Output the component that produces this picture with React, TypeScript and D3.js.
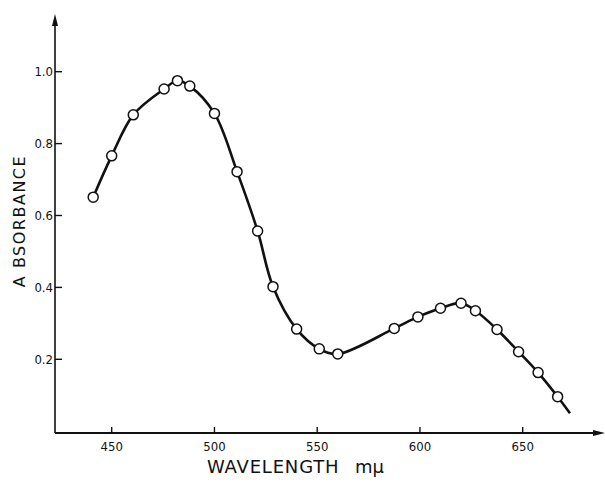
import React from 'react';
import * as d3 from 'd3';

// measured points (wavelength in m\u03bc, absorbance)
const wavelengths = [441, 450, 460.5, 475.5, 482, 488, 500, 511, 521, 528.5, 540, 551, 560, 587.5, 599, 610, 620, 627, 637.5, 648, 657.5, 667];
const absorbance = [0.651, 0.766, 0.88, 0.952, 0.975, 0.96, 0.884, 0.722, 0.557, 0.402, 0.284, 0.229, 0.215, 0.286, 0.318, 0.342, 0.356, 0.335, 0.283, 0.221, 0.163, 0.096];
// the drawn curve runs on a little past the last circle
const tailWavelength = 673;
const tailAbsorbance = 0.05;

const xTicks = [450, 500, 550, 600, 650];
const yTicks = [0.2, 0.4, 0.6, 0.8, 1.0];

const App = () => {
  const width = 605;
  const height = 483;
  const axisX = 55;
  const axisY = 433;

  const xScale = d3.scaleLinear().domain([450, 650]).range([111.7, 522.7]);
  const yScale = d3.scaleLinear().domain([0.2, 1.0]).range([359.3, 71.7]);

  const points = wavelengths.map((w, i) => [w, absorbance[i]] as [number, number]);
  const curvePoints = points.concat([[tailWavelength, tailAbsorbance]]);

  const line = d3
    .line<[number, number]>()
    .x(d => xScale(d[0]))
    .y(d => yScale(d[1]))
    .curve(d3.curveCatmullRom.alpha(0.5));

  const tickFont = '"DejaVu Sans Condensed", "Liberation Sans Narrow", sans-serif';

  return (
    <svg
      width={width}
      height={height}
      style={{ position: 'absolute', left: 0, top: 0, background: '#fff' }}
    >
      {/* axes */}
      <line x1={axisX} y1={axisY} x2={axisX} y2={20} stroke="#111" strokeWidth={1.6} />
      <path d={`M${axisX - 3},${26} L${axisX},${14} L${axisX + 3},${26} Z`} fill="#111" />
      <line x1={axisX} y1={axisY} x2={598} y2={axisY} stroke="#111" strokeWidth={1.8} />
      <path d={`M${593},${axisY - 3} L${605},${axisY} L${593},${axisY + 3} Z`} fill="#111" />

      {xTicks.map(t => (
        <g key={t}>
          <line x1={xScale(t)} x2={xScale(t)} y1={axisY} y2={axisY - 6} stroke="#111" strokeWidth={1.4} />
          <text x={xScale(t)} y={451} textAnchor="middle" fontFamily={tickFont} fontSize={13} fill="#111">
            {t}
          </text>
        </g>
      ))}

      {yTicks.map(t => (
        <g key={t}>
          <line x1={axisX} x2={axisX + 7} y1={yScale(t)} y2={yScale(t)} stroke="#111" strokeWidth={1.4} />
          <text x={axisX - 2} y={yScale(t) + 4.5} textAnchor="end" fontFamily={tickFont} fontSize={13} fill="#111">
            {t.toFixed(1)}
          </text>
        </g>
      ))}

      {/* curve and circles */}
      <path d={line(curvePoints) || ''} fill="none" stroke="#111" strokeWidth={2.6} />
      {points.map((d, i) => (
        <circle key={i} cx={xScale(d[0])} cy={yScale(d[1])} r={5} fill="#fff" stroke="#111" strokeWidth={1.5} />
      ))}

      {/* axis titles */}
      <text
        transform="translate(25,221) rotate(-90)"
        textAnchor="middle"
        fontFamily='"DejaVu Sans", sans-serif'
        fontSize={16}
        letterSpacing={1.5}
        fill="#111"
      >
        A BSORBANCE
      </text>
      <text x={207} y={473} fontFamily='"DejaVu Sans", sans-serif' fontSize={18} letterSpacing={0.8} fill="#111">
        WAVELENGTH
      </text>
      <text x={355} y={473} fontFamily='"DejaVu Sans", sans-serif' fontSize={18} fill="#111">
        m{'\u03bc'}
      </text>
    </svg>
  );
};

export default App;
